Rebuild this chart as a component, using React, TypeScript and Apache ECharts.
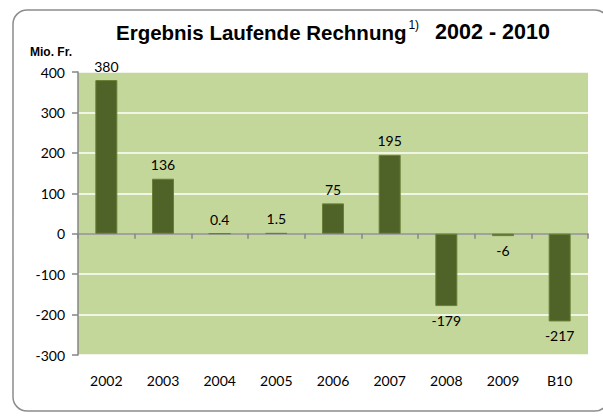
import React, { useEffect, useRef } from "react";
import * as echarts from "echarts";

const categories = ["2002", "2003", "2004", "2005", "2006", "2007", "2008", "2009", "B10"];
const values = [380, 136, 0.4, 1.5, 75, 195, -179, -6, -217];
const yMin = -300;
const yMax = 400;
const yInterval = 100;
const titleMain = "Ergebnis Laufende Rechnung";
const titleSup = "1)";
const titleYears = "2002 - 2010";
const unitLabel = "Mio. Fr.";

export default function App() {
  const ref = useRef<HTMLDivElement>(null);
  useEffect(() => {
    if (!ref.current) return;
    const chart = echarts.init(ref.current, undefined, { renderer: "svg" });
    const labelFont = "Lato, 'Open Sans', sans-serif";
    const titleFont = "'Liberation Sans', Arial, sans-serif";
    chart.setOption({
      animation: false,
      backgroundColor: "#ffffff",
      title: {
        left: 116,
        top: 19,
        padding: 0,
        text: `{a|${titleMain}}{s|${titleSup}}{b|${titleYears}}`,
        textStyle: {
          rich: {
            a: {
              fontFamily: titleFont,
              fontWeight: "bold",
              fontSize: 20.5,
              color: "#000",
              lineHeight: 26,
            },
            b: {
              fontFamily: titleFont,
              fontWeight: "bold",
              fontSize: 21.5,
              color: "#000",
              lineHeight: 26,
            },
            s: {
              fontFamily: titleFont,
              fontWeight: "normal",
              fontSize: 12,
              color: "#000",
              verticalAlign: "top",
              lineHeight: 26,
              padding: [0, 16, 10, 2],
            },
          },
        },
      },
      graphic: [
        {
          type: "rect",
          shape: { x: 13, y: 10, width: 596, height: 401, r: 14 },
          style: { fill: "none", stroke: "#8c8c8c", lineWidth: 1.5 },
          silent: true,
        },
        {
          type: "text",
          left: 30,
          top: 46,
          style: {
            text: unitLabel,
            font: "bold 12px 'Liberation Sans', Arial, sans-serif",
            fill: "#000",
          },
        },
      ],
      grid: {
        left: 78,
        right: 15,
        top: 72,
        bottom: 61,
        show: true,
        backgroundColor: "#c4d79b",
        borderWidth: 0,
      },
      xAxis: [
        {
          type: "category",
          data: categories,
          position: "bottom",
          axisLine: { show: false, onZero: false },
          axisTick: { show: false },
          axisLabel: {
            margin: 18,
            fontFamily: labelFont,
            fontSize: 14,
            color: "#000",
          },
        },
        {
          type: "category",
          data: categories,
          position: "bottom",
          axisLine: { show: true, onZero: true, lineStyle: { color: "#868686", width: 1.5 } },
          axisTick: { show: true, length: 5, lineStyle: { color: "#868686", width: 1.5 } },
          axisLabel: { show: false },
        },
      ],
      yAxis: {
        type: "value",
        min: yMin,
        max: yMax,
        interval: yInterval,
        axisLine: { show: true, lineStyle: { color: "#868686", width: 1.5 } },
        axisTick: { show: true, length: 6, lineStyle: { color: "#868686", width: 1.5 } },
        splitLine: { show: true, lineStyle: { color: "#ffffff", width: 1.5 } },
        axisLabel: {
          margin: 13,
          fontFamily: labelFont,
          fontSize: 14,
          color: "#000",
        },
      },
      series: [
        {
          type: "bar",
          xAxisIndex: 0,
          data: values.map((v) => ({
            value: v,
            label: { position: v < 0 ? "bottom" : "top" },
          })),
          barWidth: 22,
          itemStyle: { color: "#4f6228", borderColor: "#687f36", borderWidth: 1 },
          label: {
            show: true,
            distance: 7,
            fontFamily: labelFont,
            fontSize: 14,
            color: "#000",
            formatter: (p: any) => String(p.value),
          },
        },
      ],
    });
    return () => chart.dispose();
  }, []);
  return (
    <div
      ref={ref}
      style={{ position: "fixed", left: 0, top: 0, width: 603, height: 416 }}
    />
  );
}
